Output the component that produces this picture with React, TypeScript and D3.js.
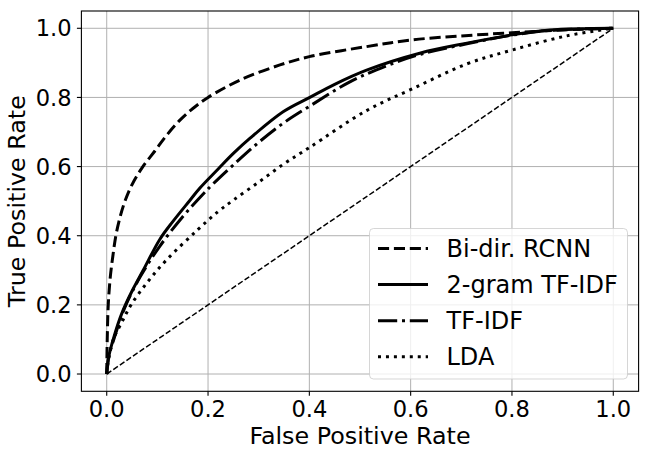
import React from "react";
import * as d3 from "d3";

const W = 649;
const H = 457;

const ticks = [0.0, 0.2, 0.4, 0.6, 0.8, 1.0];
const tickLabels = ["0.0", "0.2", "0.4", "0.6", "0.8", "1.0"];

const rcnn: [number, number][] = [
  [0, 0], [0.001, 0.1], [0.003, 0.2], [0.007, 0.28], [0.012, 0.34], [0.018, 0.4],
  [0.026, 0.452], [0.036, 0.5], [0.05, 0.548], [0.07, 0.597], [0.095, 0.645],
  [0.118, 0.69], [0.145, 0.735], [0.17, 0.768], [0.2, 0.8], [0.263, 0.85],
  [0.342, 0.894], [0.4, 0.918], [0.513, 0.947], [0.6, 0.966], [0.7, 0.978],
  [0.8, 0.987], [0.9, 0.995], [1, 1],
];

const bigram: [number, number][] = [
  [0, 0], [0.004, 0.05], [0.0144, 0.108], [0.03, 0.176], [0.05, 0.24], [0.072, 0.3],
  [0.105, 0.39], [0.13, 0.44], [0.164, 0.502], [0.184, 0.538], [0.22, 0.593],
  [0.25, 0.638], [0.283, 0.682], [0.349, 0.759], [0.401, 0.8], [0.45, 0.838],
  [0.513, 0.879], [0.618, 0.928], [0.711, 0.957], [0.8, 0.981], [0.875, 0.995], [1, 1],
];

const tfidf: [number, number][] = [
  [0, 0], [0.004, 0.05], [0.015, 0.105], [0.035, 0.19], [0.066, 0.281], [0.105, 0.37],
  [0.15, 0.455], [0.19, 0.52], [0.21, 0.55], [0.25, 0.605], [0.3, 0.67], [0.35, 0.727],
  [0.401, 0.775], [0.48, 0.845], [0.55, 0.89], [0.62, 0.925], [0.711, 0.955],
  [0.8, 0.98], [0.875, 0.994], [1, 1],
];

const lda: [number, number][] = [
  [0, 0], [0.004, 0.045], [0.013, 0.1], [0.03, 0.15], [0.048, 0.2], [0.08, 0.265],
  [0.118, 0.33], [0.178, 0.415], [0.22, 0.47], [0.25, 0.503], [0.3, 0.555],
  [0.35, 0.608], [0.4, 0.655], [0.513, 0.762], [0.605, 0.826], [0.711, 0.897],
  [0.8, 0.937], [0.908, 0.978], [1, 1],
];

const diagonal: [number, number][] = [[0, 0], [1, 1]];

const seriesNames = ["Bi-dir. RCNN", "2-gram TF-IDF", "TF-IDF", "LDA"];
const seriesData = [rcnn, bigram, tfidf, lda];
const seriesDash = ["11.1,4.8", "", "19.2,4.8,3,4.8", "3,4.95"];

const FONT = "DejaVu Sans";

export default function App() {
  const left = 81.4, right = 638.6, top = 11, bottom = 391.3;
  const x = d3.scaleLinear().domain([-0.05, 1.05]).range([left, right]);
  const y = d3.scaleLinear().domain([-0.05, 1.05]).range([bottom, top]);
  const line = d3
    .line<[number, number]>()
    .x((d) => x(d[0]))
    .y((d) => y(d[1]))
    .curve(d3.curveCatmullRom.alpha(0.5));
  const straight = d3
    .line<[number, number]>()
    .x((d) => x(d[0]))
    .y((d) => y(d[1]));

  const legX = 369.5, legY = 228.5, legW = 258, legH = 150.5;
  const rowY = (i: number) => 248.5 + i * 36.1;

  return (
    <svg
      width={W}
      height={H}
      style={{ position: "absolute", left: 0, top: 0, display: "block", background: "#fff" }}
      fontFamily={FONT}
    >
      <rect x={0} y={0} width={W} height={H} fill="#fff" />
      {ticks.map((t) => (
        <line key={"gx" + t} x1={x(t)} x2={x(t)} y1={top} y2={bottom} stroke="#b0b0b0" strokeWidth={1} />
      ))}
      {ticks.map((t) => (
        <line key={"gy" + t} x1={left} x2={right} y1={y(t)} y2={y(t)} stroke="#b0b0b0" strokeWidth={1} />
      ))}
      <path d={straight(diagonal) || ""} fill="none" stroke="#000" strokeWidth={1.5} strokeDasharray="5.55,2.4" />
      {seriesData.map((s, i) => (
        <path
          key={"s" + i}
          d={line(s) || ""}
          fill="none"
          stroke="#000"
          strokeWidth={3}
          strokeDasharray={seriesDash[i] || undefined}
          strokeLinejoin="round"
        />
      ))}
      <rect x={left} y={top} width={right - left} height={bottom - top} fill="none" stroke="#000" strokeWidth={1.1} />
      {ticks.map((t, i) => (
        <g key={"tx" + t}>
          <line x1={x(t)} x2={x(t)} y1={bottom} y2={bottom + 4.5} stroke="#000" strokeWidth={1.1} />
          <text x={x(t)} y={416.5} textAnchor="middle" fontSize={22.6} fill="#000">
            {tickLabels[i]}
          </text>
        </g>
      ))}
      {ticks.map((t, i) => (
        <g key={"ty" + t}>
          <line x1={left - 4.5} x2={left} y1={y(t)} y2={y(t)} stroke="#000" strokeWidth={1.1} />
          <text x={71.7} y={y(t)} dy="0.36em" textAnchor="end" fontSize={22.6} fill="#000">
            {tickLabels[i]}
          </text>
        </g>
      ))}
      <text x={(left + right) / 2} y={444} textAnchor="middle" fontSize={23.8} fill="#000">
        False Positive Rate
      </text>
      <text
        transform={`translate(25, ${(top + bottom) / 2}) rotate(-90)`}
        textAnchor="middle"
        fontSize={23.8}
        fill="#000"
      >
        True Positive Rate
      </text>
      <rect
        x={legX}
        y={legY}
        width={legW}
        height={legH}
        rx={4}
        ry={4}
        fill="#fff"
        fillOpacity={0.8}
        stroke="#cccccc"
        strokeOpacity={0.8}
        strokeWidth={1}
      />
      {seriesNames.map((n, i) => (
        <g key={"l" + i}>
          <line
            x1={378}
            x2={428}
            y1={rowY(i)}
            y2={rowY(i)}
            stroke="#000"
            strokeWidth={3}
            strokeDasharray={seriesDash[i] || undefined}
          />
          <text x={446.5} y={rowY(i)} dy="0.36em" fontSize={24} fill="#000">
            {n}
          </text>
        </g>
      ))}
    </svg>
  );
}
